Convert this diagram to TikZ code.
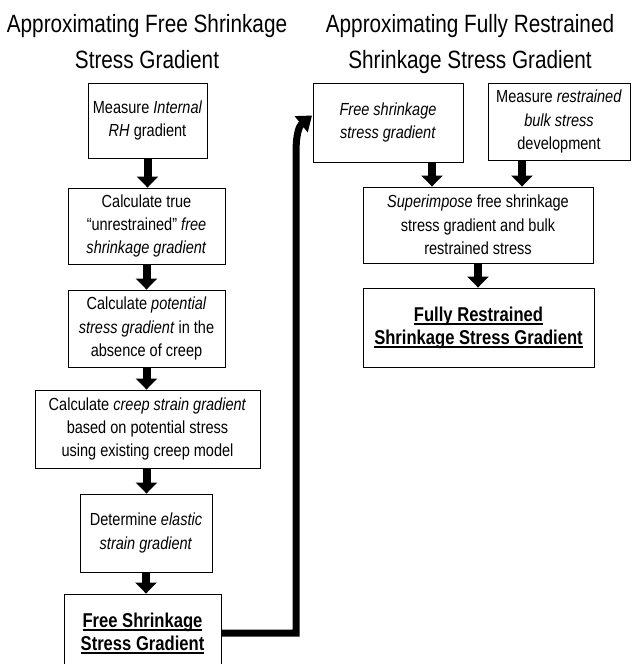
\documentclass[tikz,border=0pt]{standalone}
\usepackage{fontspec}
\setmainfont{Liberation Sans}[FakeStretch=0.83]
\usetikzlibrary{arrows.meta}
\newcommand\myul[1]{\setbox0\hbox{#1}\rlap{\rule[-3.5pt]{\wd0}{1.8pt}}\box0}
\begin{document}
\begin{tikzpicture}[x=1pt,y=-1pt,
  box/.style={draw=black, line width=0.9pt, fill=white, align=center, inner sep=0pt, font=\fontsize{17.5}{23.3}\selectfont},
  bbox/.style={box, font=\bfseries\fontsize{20}{23}\selectfont},
  ttl/.style={anchor=base, inner sep=0pt, font=\fontsize{25}{30}\selectfont},
  blk/.style={line width=8pt, -{Triangle[width=21pt,length=11pt]}},
  link/.style={line width=7pt, line join=miter, -{Triangle[width=20pt,length=14pt]}}
]
\useasboundingbox (0,0) rectangle (635,664);

% titles
\node[ttl] (t1a) at (147,32) {Approximating Free Shrinkage};
\node[ttl] (t1b) at (147,68) {Stress Gradient};
\node[ttl] (t2a) at (470,32) {Approximating Fully Restrained};
\node[ttl] (t2b) at (470,68) {Shrinkage Stress Gradient};

% left column
\node[box, minimum width=119pt, minimum height=75pt] (b1) at (147.5,120.5)
  {Measure \textit{Internal}\\\textit{RH} gradient};
\node[box, minimum width=157pt, minimum height=76pt] (b2) at (146.5,226)
  {Calculate true\\\textquotedblleft unrestrained\textquotedblright\ \textit{free}\\\textit{shrinkage gradient}};
\node[box, minimum width=157pt, minimum height=77pt] (b3) at (146.5,328.5)
  {Calculate \textit{potential}\\\textit{stress gradient} in the\\absence of creep};
\node[box, minimum width=225pt, minimum height=78pt] (b4) at (147.5,429)
  {Calculate \textit{creep strain gradient}\\based on potential stress\\using existing creep model};
\node[box, minimum width=132pt, minimum height=78pt] (b5) at (146,533)
  {Determine \textit{elastic}\\\textit{strain gradient}};
\node[bbox, minimum width=157pt, minimum height=78pt] (b6) at (142.5,633)
  {\myul{Free Shrinkage}\\\myul{Stress Gradient}};

% right column
\node[box, minimum width=150pt, minimum height=79pt] (r1) at (388,122.5)
  {\textit{Free shrinkage}\\\textit{stress gradient}};
\node[box, minimum width=142pt, minimum height=77pt] (r2) at (559,121.5)
  {Measure \textit{restrained}\\\textit{bulk stress}\\development};
\node[box, minimum width=230pt, minimum height=76pt] (r3) at (478,225)
  {\textit{Superimpose} free shrinkage\\stress gradient and bulk\\restrained stress};
\node[bbox, minimum width=231pt, minimum height=79pt] (r4) at (478.5,327.5)
  {\myul{Fully Restrained}\\\myul{Shrinkage Stress Gradient}};

% block arrows
\draw[blk] (b1.south) -- (b1.south |- b2.north);
\draw[blk] (b2.south) -- (b2.south |- b3.north);
\draw[blk] (b3.south) -- (b3.south |- b4.north);
\draw[blk] (b4.south -| b3.south) -- (b3.south |- b5.north);
\draw[blk] (b5.south) -- (b5.south |- b6.north);
\draw[blk] ([xshift=44pt]r1.south) -- ([xshift=44pt]r1.south |- r3.north);
\draw[blk] ([xshift=-37pt]r2.south) -- ([xshift=-37pt]r2.south |- r3.north);
\draw[blk] (r3.south) -- (r3.south |- r4.north);

% long connector
\coordinate (c1) at (296,633);
\coordinate (c2) at (296,152);
\coordinate (tip) at ([xshift=-0.5pt,yshift=7pt]r1.west);
\draw[link] (b6.east) -- (c1) -- (c2) .. controls (296,135) and (299,126) .. (tip);
\end{tikzpicture}
\end{document}
